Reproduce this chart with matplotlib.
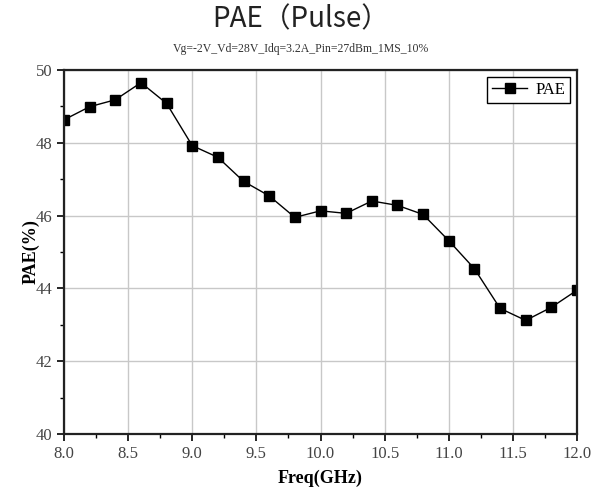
import matplotlib
matplotlib.use('Agg')
import matplotlib.pyplot as plt
from matplotlib.ticker import MultipleLocator

# Data
freq = [8.0, 8.2, 8.4, 8.6, 8.8, 9.0, 9.2, 9.4, 9.6, 9.8, 10.0,
        10.2, 10.4, 10.6, 10.8, 11.0, 11.2, 11.4, 11.6, 11.8, 12.0]
pae = [48.63, 48.99, 49.18, 49.65, 49.08, 47.92, 47.60, 46.94, 46.54, 45.95, 46.13,
       46.06, 46.40, 46.28, 46.03, 45.31, 44.54, 43.45, 43.12, 43.48, 43.95]
x_ticks = [8.0, 8.5, 9.0, 9.5, 10.0, 10.5, 11.0, 11.5, 12.0]
y_ticks = [40, 42, 44, 46, 48, 50]

title = 'PAE（Pulse）'
subtitle = 'Vg=-2V_Vd=28V_Idq=3.2A_Pin=27dBm_1MS_10%'

serif = ['Liberation Serif', 'DejaVu Serif']

fig = plt.figure(figsize=(6.02, 4.96), dpi=100)
ax = fig.add_axes([0.1063, 0.125, 0.8522, 0.734])

ax.plot(freq, pae, color='black', linewidth=1.0, marker='s', markersize=6.5,
        markerfacecolor='black', markeredgecolor='black', label='PAE')

ax.set_xlim(8.0, 12.0)
ax.set_ylim(40, 50)
ax.set_xticks(x_ticks)
ax.set_yticks(y_ticks)
ax.xaxis.set_minor_locator(MultipleLocator(0.25))
ax.yaxis.set_minor_locator(MultipleLocator(1))
ax.set_xticklabels([f'{v:.1f}' for v in x_ticks], family=serif, fontsize=12, color='#444444')
ax.set_yticklabels([str(v) for v in y_ticks], family=serif, fontsize=12, color='#444444')

ax.grid(True, which='major', color='#c8c8c8', linewidth=1.0)
ax.set_axisbelow(True)

ax.tick_params(which='major', direction='out', length=5, width=1.2, top=False, right=False)
ax.tick_params(which='minor', direction='out', length=3, width=1.0, top=False, right=False)

for sp in ax.spines.values():
    sp.set_linewidth(1.6)
    sp.set_color('#222222')

ax.set_xlabel('Freq(GHz)', family=serif, fontsize=13, fontweight='bold', labelpad=6)
ax.set_ylabel('PAE(%)', family=serif, fontsize=13, fontweight='bold', labelpad=-3)

leg = ax.legend(loc='upper right', prop={'family': serif, 'size': 12}, fancybox=False,
                framealpha=1, edgecolor='black', handlelength=2.1, handletextpad=0.5,
                borderpad=0.3, borderaxespad=0.4)
leg.get_frame().set_linewidth(1.0)

fig.text(0.5, 0.962, title, ha='center', va='center', fontsize=20,
         family=['Noto Sans CJK SC', 'DejaVu Sans'], color='#222222')
fig.text(0.5, 0.902, subtitle, ha='center', va='center', fontsize=8.5,
         family=serif, color='#333333')

fig.savefig('out.png', dpi=100)
